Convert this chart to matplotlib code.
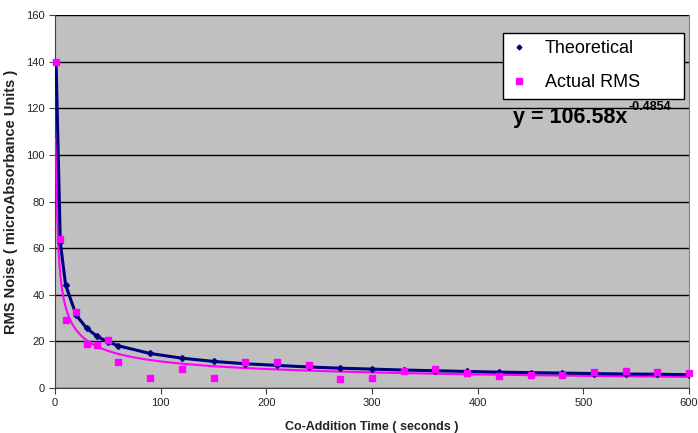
import numpy as np
import matplotlib
matplotlib.use("Agg")
import matplotlib.pyplot as plt
from matplotlib.transforms import IdentityTransform

plt.rcParams['font.family'] = ['Liberation Sans', 'DejaVu Sans']

# co-addition times (seconds)
times = [1, 5, 10, 20, 30, 40, 50, 60, 90, 120, 150, 180, 210, 240, 270,
         300, 330, 360, 390, 420, 450, 480, 510, 540, 570, 600]

# theoretical noise
theoretical = [140, 62.6, 44.3, 31.3, 25.6, 22.1, 19.8, 18.1, 14.8, 12.8,
               11.4, 10.4, 9.7, 9.0, 8.5, 8.1, 7.7, 7.4, 7.1, 6.8, 6.6,
               6.4, 6.2, 6.0, 5.9, 5.7]

# measured rms
actual = [140, 63.8, 29.1, 32.4, 18.8, 18.4, 20.4, 11.3, 4.1, 8.0, 4.1,
          11.0, 11.0, 9.7, 3.7, 4.1, 7.4, 8.1, 6.4, 5.0, 5.6, 5.4, 6.8,
          7.4, 7.0, 6.3]

# power trendline from the chart label
fit_a = 106.58
fit_b = -0.4854

fig = plt.figure(figsize=(6.98, 4.33), dpi=100)
ax = fig.add_axes([55 / 698, 1 - 388 / 433, 634 / 698, 373 / 433])
ax.set_facecolor('#C0C0C0')

xs = np.linspace(1, 600, 2000)
ax.plot(xs, fit_a * xs ** fit_b, color='#FF00FF', lw=1.5, zorder=3)
ax.plot(times, theoretical, color='#000080', lw=2.2, marker='D', ms=3,
        zorder=4, label='Theoretical')
ax.plot(times, actual, ls='none', marker='s', ms=5, color='#FF00FF',
        zorder=5, label='Actual RMS', clip_on=False)

ax.set_xlim(0, 600)
ax.set_ylim(0, 160)
ax.set_xticks(range(0, 601, 100))
ax.set_yticks(range(0, 161, 20))
ax.yaxis.grid(True, color='black', lw=1)
ax.set_axisbelow(True)
ax.tick_params(labelsize=8, length=4, color='#404040', labelcolor='#222222')

ax.spines['top'].set_visible(False)
ax.spines['right'].set_color('#808080')
ax.spines['left'].set_color('#404040')
ax.spines['bottom'].set_color('#404040')

ax.set_xlabel('Co-Addition Time ( seconds )', fontsize=9, fontweight='bold',
              color='#222222', labelpad=9)
ax.set_ylabel('RMS Noise ( microAbsorbance Units )', fontsize=10.5,
              fontweight='bold', color='#222222', labelpad=6)

leg = ax.legend(loc='upper left', bbox_to_anchor=(0.7066, 0.772, 0.2855, 0.18),
                mode='expand', fontsize=13, frameon=True, fancybox=False,
                framealpha=1, borderpad=0.4, handlelength=1.0,
                handletextpad=0.9, labelspacing=0.95, edgecolor='black',
                borderaxespad=0, markerscale=0.8)
leg.get_frame().set_linewidth(1)
for h in leg.legend_handles:
    h.set_linestyle('none')

# trendline equation, placed in pixels
eq = fig.text(513, 433 - 117, 'y = 106.58x', transform=IdentityTransform(),
              fontsize=15.5, fontweight='bold', va='center', ha='left')
ax.annotate('-0.4854', xy=(1, 0.7), xycoords=eq, xytext=(0.5, 0),
            textcoords='offset points', fontsize=9, fontweight='bold',
            va='bottom', ha='left')

fig.savefig('out.png', dpi=100)
